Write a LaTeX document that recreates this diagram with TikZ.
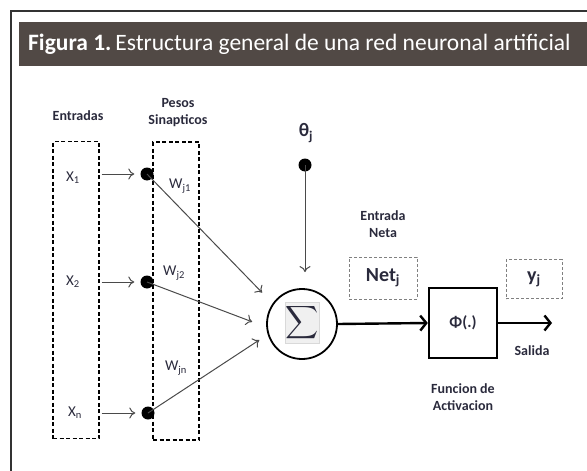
\documentclass[tikz,border=0pt]{standalone}
\usepackage{fontspec}
\setmainfont{Carlito}
\usepackage{xcolor}
\usepackage{graphicx}
\usepackage{tikz}
\usetikzlibrary{arrows.meta,calc}

\definecolor{barcol}{HTML}{514945}
\definecolor{labcol}{HTML}{2A2A3C}
\definecolor{linecol}{HTML}{4A4A4A}

\tikzset{
    lbl/.style={font=\bfseries\fontsize{14}{17}\selectfont, text=labcol, align=center},
    var/.style={font=\fontsize{15}{16}\selectfont, text=labcol},
    dashbox/.style={draw, line width=1.4pt, dash pattern=on 4pt off 2.5pt, inner sep=0pt},
    netbox/.style={draw=gray, densely dashed, line width=0.8pt, font=\bfseries\fontsize{20}{21}\selectfont, text=labcol},
    dot/.style={circle, fill=black, inner sep=0pt, minimum size=13pt},
    thinarrow/.style={draw=linecol, line width=1pt, -{To[length=6pt,width=11pt]}},
    bigarrow/.style={draw=black, line width=2.4pt, -{Straight Barb[length=6pt,width=15pt]}}
}

\begin{document}
\begin{tikzpicture}[x=1pt, y=-1pt]
    \useasboundingbox (0,0) rectangle (587,471);

    % Frame and title bar
    \draw[line width=2pt, black!80] (11,471) -- (11,11) -- (587,11);
    \fill[barcol] (19,22) rectangle (587,66);
    \node[anchor=west, text=white, font=\fontsize{23.5}{24}\selectfont, inner sep=0pt] (title) at (28,44)
        {\textbf{Figura 1.}\,Estructura general de una red neuronal artificial};

    % Inputs and weights
    \node[lbl] (entradas) at (78,116) {Entradas};
    \node[lbl] (pesos) at (178,113) {Pesos\\Sinapticos};
    \node[dashbox, minimum width=46pt, minimum height=297pt] (inbox) at (76,290) {};
    \node[dashbox, minimum width=46pt, minimum height=298pt] (wbox) at (176,291) {};

    \node[var] (x1) at (73,178) {X\textsubscript{1}};
    \node[var] (x2) at (73,282) {X\textsubscript{2}};
    \node[var] (xn) at (75,413) {X\textsubscript{n}};

    \node[dot] (d1) at (147,174) {};
    \node[dot] (d2) at (147,282) {};
    \node[dot] (dn) at (148,413) {};

    \node[var] (w1) at (180,186) {W\textsubscript{j1}};
    \node[var] (w2) at (174,273) {W\textsubscript{j2}};
    \node[var] (wn) at (176,368) {W\textsubscript{jn}};

    \foreach \d in {1,2,n} {
        \draw[thinarrow, shorten <=2pt, shorten >=6pt] (inbox.east |- d\d) -- (d\d.west);
    }

    % Summing junction
    \node[draw, circle, line width=1.8pt, minimum size=70pt] (sum) at (302,324) {};
    \node[fill=gray!12, draw=gray!30, minimum width=34pt, minimum height=41pt, inner sep=0pt] (sig) at (302,323)
        {\color{labcol}\scalebox{2.3}{$\displaystyle\sum$}};

    \draw[thinarrow, shorten >=15pt] (d1.center) -- (sum.145);
    \draw[thinarrow, shorten >=15pt] (d2.center) -- (sum.185);
    \draw[thinarrow, shorten >=10pt] (dn.center) -- (sum.197);

    % Bias
    \node[font=\bfseries\fontsize{19}{20}\selectfont, text=labcol] (theta) at (306,133) {θ\textsubscript{j}};
    \node[dot] (db) at (305,165) {};
    \draw[thinarrow, shorten >=16pt] (db.center) -- (db |- sum.north);

    % Net input and activation
    \node[lbl] (neta) at (383,224) {Entrada\\Neta};
    \node[netbox, minimum width=68pt, minimum height=42pt] (net) at (383,278) {Net\textsubscript{j}};
    \node[draw, line width=2.4pt, minimum width=68pt, minimum height=70pt, font=\bfseries\fontsize{16}{17}\selectfont, text=labcol] (phi) at (463,323) {Φ(.)};
    \node[netbox, minimum width=56pt, minimum height=39pt] (yj) at (534,279) {y\textsubscript{j}};
    \coordinate (out) at (552,323);

    \draw[bigarrow] (sum.east) -- (phi.west);
    \draw[bigarrow] (phi.east) -- (out);

    \node[lbl] (salida) at (532,351) {Salida};
    \node[lbl] (funcion) at (463,397) {Funcion de\\Activacion};
\end{tikzpicture}
\end{document}
